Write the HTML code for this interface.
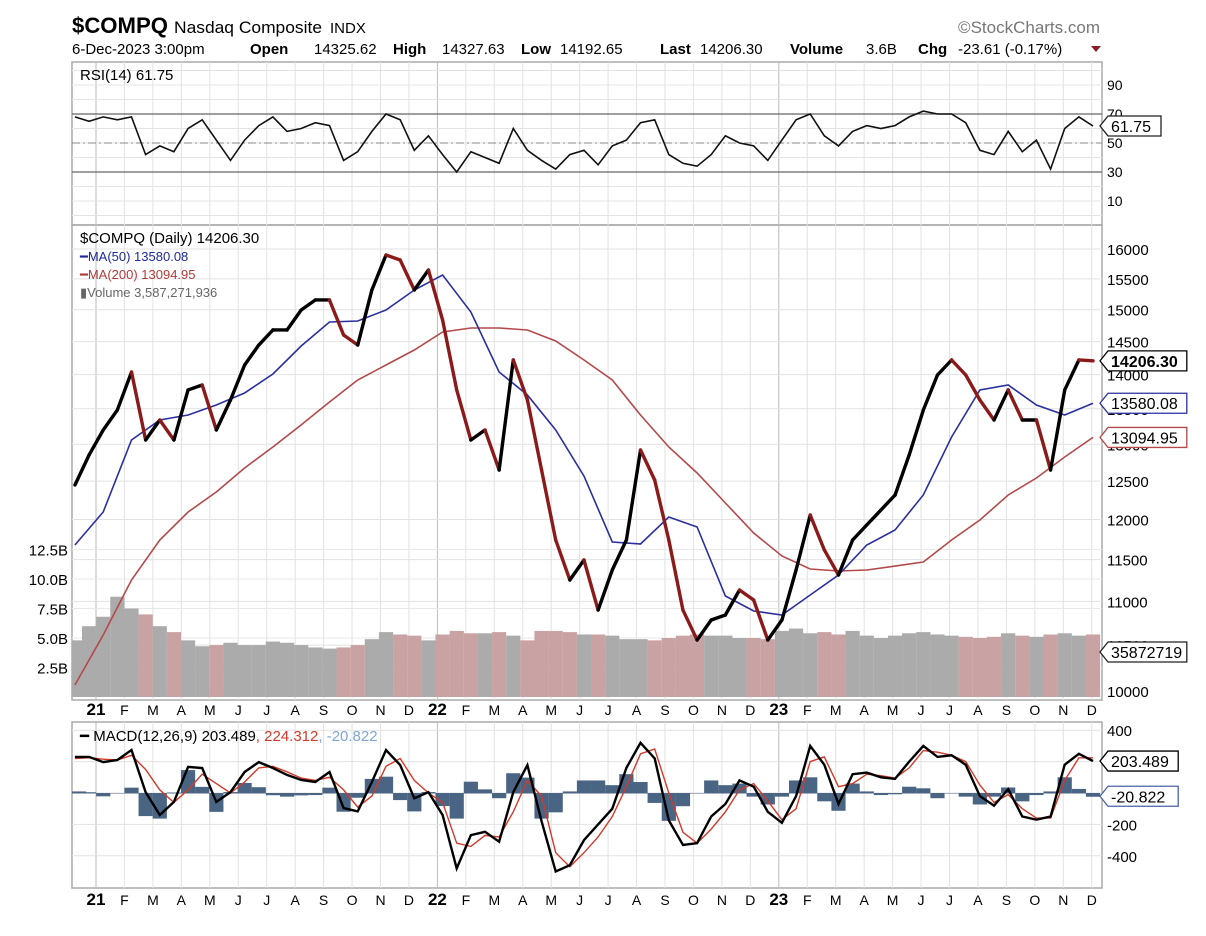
<!DOCTYPE html>
<html><head><meta charset="utf-8"><style>
html,body{margin:0;padding:0;background:#fff;}
svg{display:block;font-family:"Liberation Sans",sans-serif;}
</style></head><body>
<svg id="c" width="1206" height="936" viewBox="0 0 1206 936" xmlns="http://www.w3.org/2000/svg">
<g>
<text x="72" y="33" font-size="22" font-weight="bold" textLength="96" lengthAdjust="spacingAndGlyphs">$COMPQ</text>
<text x="174" y="33" font-size="17" textLength="148" lengthAdjust="spacingAndGlyphs">Nasdaq Composite</text>
<text x="330" y="33" font-size="15">INDX</text>
</g>
<text x="1100" y="33" font-size="17" fill="#777" text-anchor="end">©StockCharts.com</text>
<g font-size="15">
<text x="72" y="54">6-Dec-2023 3:00pm</text>
<text x="250" y="54" font-weight="bold">Open</text><text x="314" y="54">14325.62</text>
<text x="393" y="54" font-weight="bold">High</text><text x="442" y="54">14327.63</text>
<text x="521" y="54" font-weight="bold">Low</text><text x="560" y="54">14192.65</text>
<text x="660" y="54" font-weight="bold">Last</text><text x="700" y="54">14206.30</text>
<text x="790" y="54" font-weight="bold">Volume</text><text x="866" y="54">3.6B</text>
<text x="918" y="54" font-weight="bold">Chg</text><text x="958" y="54">-23.61 (-0.17%)</text>
</g>
<polygon points="1091,46 1101,46 1096,52" fill="#8b1a2b"/>
<g id="grid"></g>
<g id="marks"></g>
<text x="80" y="80" font-size="15">RSI(14) 61.75</text>
<text x="80" y="243" font-size="15">$COMPQ (Daily) 14206.30</text>
<text x="80" y="261" font-size="13" fill="#1f2a9b">━MA(50) 13580.08</text>
<text x="80" y="279" font-size="13" fill="#b23a3a">━MA(200) 13094.95</text>
<text x="80" y="297" font-size="13" fill="#666">▮Volume 3,587,271,936</text>
<text x="80" y="741" font-size="15">━ MACD(12,26,9) 203.489<tspan fill="#d03a2a">, 224.312</tspan><tspan fill="#7fa5d6">, -20.822</tspan></text>
</svg>
<script>
const closes=[12449,12853,13199,13483,14038,13059,13340,13059,13773,13846,13199,13627,14143,14447,14680,14680,14995,15156,15156,14602,14447,15318,15898,15814,15318,15647,14837,13773,13059,13199,12649,14219,13627,12649,11742,11253,11495,10899,11373,11742,12921,12515,11742,10899,10557,10784,10842,11134,11016,10557,10784,11373,12058,11618,11313,11742,11931,12122,12317,12853,13483,13994,14219,13994,13627,13340,13773,13340,13340,12649,13773,14219,14206];
const volumes=[4.8,6.0,6.8,8.5,7.5,7.0,6.0,5.5,4.8,4.3,4.4,4.6,4.4,4.4,4.7,4.6,4.4,4.2,4.1,4.2,4.4,4.9,5.5,5.3,5.2,4.8,5.3,5.6,5.4,5.4,5.5,5.2,4.8,5.6,5.6,5.5,5.3,5.3,5.2,4.9,4.9,4.8,5.0,5.2,5.3,5.2,5.2,5.0,5.0,4.9,5.6,5.8,5.4,5.5,5.3,5.6,5.2,5.0,5.2,5.4,5.5,5.3,5.2,5.1,5.0,5.1,5.4,5.2,5.1,5.3,5.4,5.2,5.3];
const rsi=[68,65,68,66,68,42,48,44,60,66,52,38,52,62,68,58,60,64,62,38,44,58,70,66,45,55,42,30,44,40,36,60,45,38,32,42,45,35,48,52,64,66,42,36,34,42,55,50,48,38,52,66,70,55,48,58,62,60,62,68,72,70,70,64,45,42,58,44,52,32,60,68,61.75];
const ma50=[11680,12097,13059,13340,13411,13554,13729,14009,14432,14805,14821,14995,15318,15564,14963,14038,13700,13199,12568,11717,11692,12032,11905,11063,10888,10842,11075,11313,11680,11867,12317,13101,13773,13846,13554,13411,13580];
const ma200=[10064,10614,11253,11742,12097,12357,12676,12963,13270,13598,13919,14143,14371,14649,14711,14711,14680,14509,14219,13919,13411,12963,12609,12213,11829,11544,11385,11361,11373,11421,11470,11742,11994,12317,12542,12825,13095];
const macd=[230,230,197,210,274,6,-140,-57,166,159,-57,6,134,197,159,115,83,70,134,-96,-117,70,274,178,-34,6,-140,-480,-268,-247,-310,6,178,-180,-500,-460,-300,-200,-100,160,320,220,-174,-331,-320,-150,-70,80,40,-120,-190,-20,300,180,-70,120,130,100,90,200,300,230,240,180,-20,-80,25,-150,-170,-150,180,250,203.489];
const signal=[220,225,215,210,240,150,20,-60,20,120,60,0,70,160,170,135,95,80,100,20,-90,-20,170,220,80,0,-60,-320,-340,-270,-280,-120,80,-20,-380,-470,-380,-280,-150,40,250,280,0,-250,-320,-230,-120,20,60,-50,-170,-100,200,230,40,60,120,110,95,160,270,260,240,200,50,-60,-10,-100,-160,-160,80,224,224.312];
const monthLabels=["21","F","M","A","M","J","J","A","S","O","N","D","22","F","M","A","M","J","J","A","S","O","N","D","23","F","M","A","M","J","J","A","S","O","N","D"];
const priceTicks=[10000,10500,11000,11500,12000,12500,13000,13500,14000,14500,15000,15500,16000];
const volTicks=[2.5,5.0,7.5,10.0,12.5];
const rsiTicks=[90,70,50,30,10];
const macdTicks=[400,200,0,-200,-400];

const NS="http://www.w3.org/2000/svg";
const X0=72,X1=1102;
const tOf=i=>-0.74+0.497*i;
const tMA=i=>-0.74+0.994*i;
const xT=t=>96+28.45*t;
const yP=p=>691-940.4*Math.log(p/10000);
const yV=v=>697-v*11.8;
const yR=v=>143-(v-50)*1.45;
const yM=v=>793-v*0.157;
const G=document.getElementById('grid'),M=document.getElementById('marks');
function el(tag,attrs,parent){const e=document.createElementNS(NS,tag);for(const k in attrs)e.setAttribute(k,attrs[k]);(parent||M).appendChild(e);return e;}
function txt(x,y,s,attrs,parent){const e=el('text',Object.assign({x:x,y:y},attrs||{}),parent);e.textContent=s;return e;}

const panels=[[62,225],[225,700],[722,888]];
panels.forEach(function(p,k){
  const r=el('rect',{x:X0,y:p[0],width:X1-X0,height:p[1]-p[0],fill:'none',stroke:'#aaa','stroke-width':1.5},G);
  
  
});
monthLabels.forEach(function(lab,m){
  const x=xT(m);
  const yr=(m%12===0);
  panels.forEach(function(p){
    const l=el('line',{x1:x,x2:x,y1:p[0],y2:p[1],stroke:yr?'#bbb':'#e2e2e2','stroke-width':1},G);
    
    
  });
  [715,905].forEach(function(y){
    const t=txt(x,y,lab,{'font-size':yr?17:14,'font-weight':yr?'bold':'normal','text-anchor':'middle'},G);
    
    
  });
});
for(let v=0;v<=100;v+=10){const y=yR(v);if(y<62||y>225)continue;
  const l=el('line',{x1:X0,x2:X1,y1:y,y2:y,stroke:'#e4e4e4'},G);
  }
[70,30].forEach(function(v){const l=el('line',{x1:X0,x2:X1,y1:yR(v),y2:yR(v),stroke:'#666','stroke-width':1.3},G);
  });
const mid=el('line',{x1:X0,x2:X1,y1:yR(50),y2:yR(50),stroke:'#888','stroke-dasharray':'8,3,2,3'},G);

rsiTicks.forEach(function(v){const t=txt(1107,yR(v)+5,String(v),{'font-size':14},G);
  });
priceTicks.forEach(function(p){const y=yP(p);
  const l=el('line',{x1:X0,x2:X1,y1:y,y2:y,stroke:'#e2e2e2'},G);
  
  const t=txt(1107,y+6,String(p),{'font-size':15},G);
  });
volTicks.forEach(function(v){const y=yV(v);
  const l=el('line',{x1:X0,x2:X1,y1:y,y2:y,stroke:'#e8e8e8'},G);
  
  const t=txt(68,y+6,v.toFixed(1)+'B',{'font-size':15,'text-anchor':'end'},G);
  });
macdTicks.forEach(function(v){const y=yM(v);
  const l=el('line',{x1:X0,x2:X1,y1:y,y2:y,stroke:'#e2e2e2'},G);
  
  if(v===400||v===-200||v===-400){const t=txt(1107,y+6,String(v),{'font-size':15},G);
  }});

const bw=14.2;
volumes.forEach(function(v,i){
  const x=xT(tOf(i));const down=i>0&&closes[i]<closes[i-1];
  const r=el('rect',{x:Math.max(X0,x-bw/2),y:yV(v),width:bw,height:697-yV(v),fill:down?'#c9a3a3':'#ababab'});
  
});
function pts(arr,tf,yf){return arr.map(function(v,i){return xT(tf(i)).toFixed(1)+','+yf(v).toFixed(1);}).join(' ');}
const l200=el('polyline',{points:pts(ma200,tMA,yP),fill:'none',stroke:'#b24a4a','stroke-width':1.6});

const l50=el('polyline',{points:pts(ma50,tMA,yP),fill:'none',stroke:'#2a2f9e','stroke-width':1.6});

for(let i=1;i<closes.length;i++){
  const down=closes[i]<closes[i-1];
  const s=el('line',{x1:xT(tOf(i-1)),y1:yP(closes[i-1]),x2:xT(tOf(i)),y2:yP(closes[i]),stroke:down?'#8b1a1a':'#000','stroke-width':3.4,'stroke-linecap':'round'});
  
}
const rl=el('polyline',{points:pts(rsi,tOf,yR),fill:'none',stroke:'#111','stroke-width':1.6});

macd.forEach(function(v,i){
  const h=v-signal[i];const x=xT(tOf(i));const y0=yM(0),y1=yM(h);
  const r=el('rect',{x:Math.max(X0,x-bw/2),y:Math.min(y0,y1),width:bw,height:Math.abs(y1-y0)+0.5,fill:'#4a6584'});
  
});
const sl=el('polyline',{points:pts(signal,tOf,yM),fill:'none',stroke:'#d03a2a','stroke-width':1.4});

const ml=el('polyline',{points:pts(macd,tOf,yM),fill:'none',stroke:'#000','stroke-width':2.4});


function tag(y,label,color,bold,name){
  const w=label.length*8.6+10;
  const g=el('g',{});
  
  el('polygon',{points:[1100,y,1108,y-10,1108+w,y-10,1108+w,y+10,1108,y+10].join(' '),fill:'#fff',stroke:color,'stroke-width':1.3},g);
  txt(1111,y+6,label,{'font-size':16,'font-weight':bold?'bold':'normal',fill:'#000'},g);
}
tag(yR(rsi[rsi.length-1]),'61.75','#222',false,'rsi-value-tag');
tag(yP(closes[closes.length-1]),'14206.30','#000',true,'price-value-tag');
tag(yP(ma50[ma50.length-1]),'13580.08','#2a2f9e',false,'ma50-value-tag');
tag(yP(ma200[ma200.length-1]),'13094.95','#b24a4a',false,'ma200-value-tag');
tag(652,'35872719','#222',false,'volume-value-tag');
tag(yM(macd[macd.length-1]),'203.489','#000',false,'macd-value-tag');
tag(yM(macd[macd.length-1]-signal[signal.length-1]),'-20.822','#4a63a8',false,'macd-hist-value-tag');
</script>
</body></html>
